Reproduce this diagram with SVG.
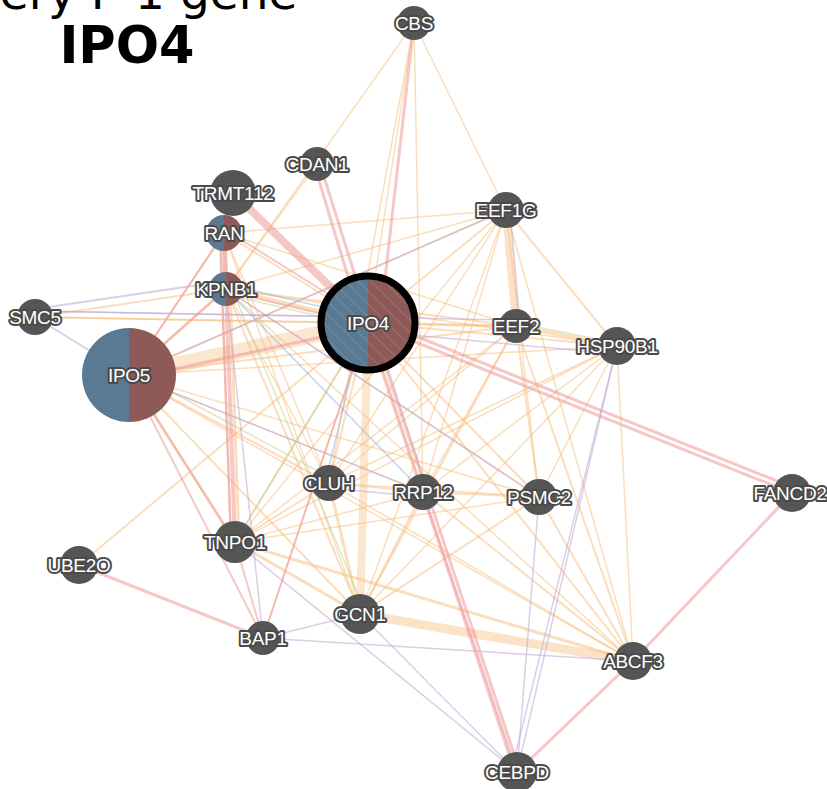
<svg xmlns="http://www.w3.org/2000/svg" width="827" height="789" viewBox="0 0 827 789">
<style>
.e line{fill:none;stroke-linecap:butt}
.p{stroke:#ec9999;stroke-opacity:.55}
.o{stroke:#f8bd7c;stroke-opacity:.5}
.v{stroke:#bda6d4;stroke-opacity:.55}
.g{stroke:#c2d492;stroke-opacity:.55}
.b{stroke:#98b2de;stroke-opacity:.55}
.n{fill:#555}
.bl{fill:#5a7a94}
.rd{fill:#8e5a57}
.lb{font-family:"Liberation Sans",Arial,sans-serif;font-size:19px;fill:#fff;stroke:#4a4a4a;stroke-width:4px;paint-order:stroke;stroke-linejoin:round;text-anchor:middle;letter-spacing:-0.3px}
.t{font-family:"DejaVu Sans",Verdana,sans-serif;fill:#000}
</style>
<defs>
<pattern id="hatch" patternUnits="userSpaceOnUse" width="9" height="9" patternTransform="rotate(-45)">
<line x1="0" y1="0" x2="0" y2="9" stroke="#fff" stroke-opacity=".22" stroke-width="1.2"/>
</pattern>
</defs>
<rect width="827" height="789" fill="#fff"/>
<g id="title">
<text class="t" x="-67" y="9" font-size="47">Query P-1 gene</text>
<text class="t" x="127" y="63" font-size="51" font-weight="bold" text-anchor="middle">IPO4</text>
</g>
<g id="connectors" class="e">
<!-- orange -->
<line class="o" stroke-width="16" x1="129" y1="375" x2="368" y2="323" style="stroke-opacity:.38"/>
<line class="o" stroke-width="8" x1="368" y1="323" x2="360" y2="614" style="stroke-opacity:.38"/>
<line class="o" stroke-width="9" x1="360" y1="614" x2="633" y2="661" style="stroke-opacity:.42"/>
<line class="o" stroke-width="8" x1="506" y1="210" x2="516" y2="326" style="stroke-opacity:.42"/>
<line class="o" stroke-width="1.5" x1="414" y1="23" x2="329" y2="483"/>
<line class="o" stroke-width="1.5" x1="414" y1="23" x2="423" y2="492"/>
<line class="o" stroke-width="1.5" x1="414" y1="23" x2="506" y2="210"/>
<line class="o" stroke-width="1.5" x1="414" y1="23" x2="226" y2="289"/>
<line class="o" stroke-width="1.5" x1="317" y1="164" x2="226" y2="289"/>
<line class="o" stroke-width="2" x1="224" y1="233" x2="368" y2="323"/>
<line class="o" stroke-width="1.5" x1="224" y1="233" x2="506" y2="210"/>
<line class="o" stroke-width="1.5" x1="224" y1="233" x2="516" y2="326"/>
<line class="o" stroke-width="4" x1="224" y1="233" x2="226" y2="289"/>
<line class="o" stroke-width="2" x1="224" y1="233" x2="129" y2="375"/>
<line class="o" stroke-width="1.5" x1="224" y1="233" x2="329" y2="483"/>
<line class="o" stroke-width="1.5" x1="224" y1="233" x2="360" y2="614"/>
<line class="o" stroke-width="2" x1="220" y1="233" x2="231" y2="542"/>
<line class="o" stroke-width="4" x1="226" y1="289" x2="368" y2="323"/>
<line class="o" stroke-width="3" x1="226" y1="289" x2="129" y2="375"/>
<line class="o" stroke-width="1.5" x1="226" y1="289" x2="506" y2="210"/>
<line class="o" stroke-width="2" x1="226" y1="289" x2="516" y2="326"/>
<line class="o" stroke-width="1.5" x1="226" y1="289" x2="617" y2="346"/>
<line class="o" stroke-width="1.5" x1="226" y1="289" x2="539" y2="497"/>
<line class="o" stroke-width="1.5" x1="226" y1="289" x2="329" y2="483"/>
<line class="o" stroke-width="2" x1="226" y1="289" x2="360" y2="614"/>
<line class="o" stroke-width="3" x1="230" y1="289" x2="239" y2="542"/>
<line class="o" stroke-width="1.5" x1="226" y1="289" x2="633" y2="661"/>
<line class="o" stroke-width="2" x1="35" y1="317" x2="226" y2="289"/>
<line class="o" stroke-width="2" x1="35" y1="317" x2="368" y2="323"/>
<line class="o" stroke-width="1.5" x1="35" y1="317" x2="516" y2="326"/>
<line class="o" stroke-width="2" x1="129" y1="375" x2="506" y2="210"/>
<line class="o" stroke-width="2" x1="129" y1="375" x2="516" y2="326"/>
<line class="o" stroke-width="1.5" x1="129" y1="375" x2="617" y2="346"/>
<line class="o" stroke-width="1.5" x1="129" y1="375" x2="539" y2="497"/>
<line class="o" stroke-width="1.5" x1="129" y1="375" x2="423" y2="492"/>
<line class="o" stroke-width="2" x1="129" y1="375" x2="329" y2="483"/>
<line class="o" stroke-width="2" x1="129" y1="375" x2="360" y2="614"/>
<line class="o" stroke-width="3" x1="129" y1="375" x2="235" y2="542"/>
<line class="o" stroke-width="1.5" x1="129" y1="375" x2="633" y2="661"/>
<line class="o" stroke-width="2" x1="368" y1="323" x2="506" y2="210"/>
<line class="o" stroke-width="3" x1="368" y1="323" x2="516" y2="326"/>
<line class="o" stroke-width="2" x1="368" y1="323" x2="617" y2="346"/>
<line class="o" stroke-width="2" x1="368" y1="323" x2="539" y2="497"/>
<line class="o" stroke-width="2" x1="368" y1="323" x2="423" y2="492"/>
<line class="o" stroke-width="2" x1="368" y1="323" x2="329" y2="483"/>
<line class="o" stroke-width="2" x1="368" y1="323" x2="235" y2="542"/>
<line class="o" stroke-width="2" x1="368" y1="323" x2="633" y2="661"/>
<line class="o" stroke-width="2" x1="368" y1="323" x2="79" y2="565"/>
<line class="o" stroke-width="1.5" x1="368" y1="323" x2="414" y2="23"/>
<line class="o" stroke-width="1.5" x1="368" y1="323" x2="263" y2="638"/>
<line class="o" stroke-width="2" x1="506" y1="210" x2="617" y2="346"/>
<line class="o" stroke-width="1.5" x1="506" y1="210" x2="539" y2="497"/>
<line class="o" stroke-width="1.5" x1="506" y1="210" x2="329" y2="483"/>
<line class="o" stroke-width="1.5" x1="506" y1="210" x2="360" y2="614"/>
<line class="o" stroke-width="1.5" x1="506" y1="210" x2="235" y2="542"/>
<line class="o" stroke-width="1.5" x1="506" y1="210" x2="633" y2="661"/>
<line class="o" stroke-width="1.5" x1="506" y1="210" x2="423" y2="492"/>
<line class="o" stroke-width="4" x1="516" y1="326" x2="617" y2="346"/>
<line class="o" stroke-width="2" x1="516" y1="326" x2="539" y2="497"/>
<line class="o" stroke-width="2" x1="516" y1="326" x2="360" y2="614"/>
<line class="o" stroke-width="1.5" x1="516" y1="326" x2="329" y2="483"/>
<line class="o" stroke-width="1.5" x1="516" y1="326" x2="235" y2="542"/>
<line class="o" stroke-width="2" x1="516" y1="326" x2="633" y2="661"/>
<line class="o" stroke-width="1.5" x1="516" y1="326" x2="423" y2="492"/>
<line class="o" stroke-width="1.5" x1="617" y1="346" x2="539" y2="497"/>
<line class="o" stroke-width="1.5" x1="617" y1="346" x2="633" y2="661"/>
<line class="o" stroke-width="1.5" x1="617" y1="346" x2="360" y2="614"/>
<line class="o" stroke-width="1.5" x1="617" y1="346" x2="235" y2="542"/>
<line class="o" stroke-width="1.5" x1="617" y1="346" x2="423" y2="492"/>
<line class="o" stroke-width="1.5" x1="617" y1="346" x2="329" y2="483"/>
<line class="o" stroke-width="2" x1="539" y1="497" x2="633" y2="661"/>
<line class="o" stroke-width="2" x1="539" y1="497" x2="360" y2="614"/>
<line class="o" stroke-width="1.5" x1="539" y1="497" x2="329" y2="483"/>
<line class="o" stroke-width="2" x1="539" y1="497" x2="423" y2="492"/>
<line class="o" stroke-width="1.5" x1="539" y1="497" x2="235" y2="542"/>
<line class="o" stroke-width="2" x1="423" y1="492" x2="360" y2="614"/>
<line class="o" stroke-width="1.5" x1="423" y1="492" x2="329" y2="483"/>
<line class="o" stroke-width="2" x1="423" y1="492" x2="633" y2="661"/>
<line class="o" stroke-width="1.5" x1="423" y1="492" x2="235" y2="542"/>
<line class="o" stroke-width="3" x1="329" y1="483" x2="360" y2="614"/>
<line class="o" stroke-width="2" x1="329" y1="483" x2="235" y2="542"/>
<line class="o" stroke-width="1.5" x1="329" y1="483" x2="633" y2="661"/>
<line class="o" stroke-width="3" x1="360" y1="614" x2="235" y2="542"/>
<line class="o" stroke-width="3" x1="235" y1="542" x2="633" y2="661"/>
<!-- green / blue -->
<line class="g" stroke-width="1.5" x1="368" y1="323" x2="235" y2="542"/>
<line class="g" stroke-width="1.5" x1="226" y1="294" x2="368" y2="328"/>
<line class="g" stroke-width="1.5" x1="516" y1="323" x2="617" y2="343"/>
<line class="g" stroke-width="1.5" x1="129" y1="369" x2="329" y2="477"/>
<line class="g" stroke-width="1.5" x1="232" y1="289" x2="366" y2="614"/>
<line class="b" stroke-width="1.5" x1="364" y1="323" x2="325" y2="483"/>
<line class="b" stroke-width="1.5" x1="226" y1="289" x2="423" y2="492"/>
<line class="b" stroke-width="1.5" x1="226" y1="284" x2="368" y2="318"/>
<!-- purple -->
<line class="v" stroke-width="2" x1="35" y1="309" x2="226" y2="281"/>
<line class="v" stroke-width="2" x1="35" y1="317" x2="129" y2="375"/>
<line class="v" stroke-width="1.5" x1="35" y1="311" x2="368" y2="317"/>
<line class="v" stroke-width="1.5" x1="129" y1="375" x2="506" y2="210"/>
<line class="v" stroke-width="1.5" x1="226" y1="289" x2="539" y2="497"/>
<line class="v" stroke-width="1.5" x1="263" y1="638" x2="360" y2="614"/>
<line class="v" stroke-width="1.5" x1="263" y1="638" x2="633" y2="661"/>
<line class="v" stroke-width="1.5" x1="360" y1="614" x2="517" y2="772"/>
<line class="v" stroke-width="1.5" x1="235" y1="542" x2="517" y2="772"/>
<line class="v" stroke-width="1.5" x1="617" y1="346" x2="517" y2="772"/>
<line class="v" stroke-width="1.5" x1="617" y1="346" x2="511" y2="772"/>
<line class="v" stroke-width="1.5" x1="539" y1="497" x2="517" y2="772"/>
<line class="v" stroke-width="1.5" x1="423" y1="497" x2="329" y2="488"/>
<line class="v" stroke-width="1.5" x1="373" y1="323" x2="428" y2="492"/>
<line class="v" stroke-width="1.5" x1="510" y1="210" x2="520" y2="326"/>
<line class="v" stroke-width="1.5" x1="35" y1="311" x2="516" y2="320"/>
<line class="v" stroke-width="1.5" x1="226" y1="289" x2="263" y2="638"/>
<line class="v" stroke-width="1.5" x1="368" y1="331" x2="617" y2="354"/>
<line class="v" stroke-width="1.5" x1="129" y1="375" x2="423" y2="492"/>
<!-- pink -->
<line class="p" stroke-width="8" x1="233" y1="193" x2="368" y2="323"/>
<line class="p" stroke-width="3" x1="314" y1="164" x2="362" y2="323"/>
<line class="p" stroke-width="3" x1="320" y1="164" x2="370" y2="323"/>
<line class="p" stroke-width="3" x1="414" y1="23" x2="380" y2="323"/>
<line class="p" stroke-width="5" x1="224" y1="233" x2="226" y2="289"/>
<line class="p" stroke-width="4" x1="226" y1="289" x2="235" y2="542"/>
<line class="p" stroke-width="2.5" x1="220" y1="233" x2="231" y2="542"/>
<line class="p" stroke-width="2" x1="129" y1="375" x2="235" y2="542"/>
<line class="p" stroke-width="2" x1="129" y1="375" x2="263" y2="638"/>
<line class="p" stroke-width="2" x1="129" y1="375" x2="224" y2="233"/>
<line class="p" stroke-width="2" x1="129" y1="375" x2="226" y2="289"/>
<line class="p" stroke-width="3" x1="129" y1="379" x2="368" y2="327"/>
<line class="p" stroke-width="3" x1="368" y1="323" x2="792" y2="493"/>
<line class="p" stroke-width="3" x1="368" y1="317" x2="792" y2="487"/>
<line class="p" stroke-width="3" x1="366" y1="323" x2="515" y2="772"/>
<line class="p" stroke-width="3" x1="371" y1="323" x2="520" y2="772"/>
<line class="p" stroke-width="2" x1="368" y1="323" x2="263" y2="638"/>
<line class="p" stroke-width="3" x1="79" y1="565" x2="263" y2="638"/>
<line class="p" stroke-width="2" x1="235" y1="542" x2="263" y2="638"/>
<line class="p" stroke-width="3" x1="792" y1="493" x2="633" y2="661"/>
<line class="p" stroke-width="3" x1="633" y1="661" x2="517" y2="772"/>
<line class="p" stroke-width="2" x1="423" y1="492" x2="517" y2="772"/>
<line class="p" stroke-width="2" x1="224" y1="229" x2="368" y2="319"/>
<line class="p" stroke-width="2" x1="226" y1="291" x2="368" y2="325"/>
</g>
<g id="n-CBS"><circle class="n" cx="414" cy="23" r="17"/><text class="lb" x="414" y="30">CBS</text></g>
<g id="n-CDAN1"><circle class="n" cx="317" cy="164" r="17"/><text class="lb" x="317" y="171">CDAN1</text></g>
<g id="n-TRMT112"><circle class="n" cx="233" cy="193" r="23"/><text class="lb" x="233" y="200">TRMT112</text></g>
<g id="n-RAN"><path class="bl" d="M224 215A18 18 0 0 0 224 251Z"/><path class="rd" d="M224 215A18 18 0 0 1 224 251Z"/><text class="lb" x="224" y="240">RAN</text></g>
<g id="n-KPNB1"><path class="bl" d="M226 272A17 17 0 0 0 226 306Z"/><path class="rd" d="M226 272A17 17 0 0 1 226 306Z"/><text class="lb" x="226" y="296">KPNB1</text></g>
<g id="n-SMC5"><circle class="n" cx="35" cy="317" r="18"/><text class="lb" x="35" y="324">SMC5</text></g>
<g id="n-IPO5"><path class="bl" d="M129 328A47 47 0 0 0 129 422Z"/><path class="rd" d="M129 328A47 47 0 0 1 129 422Z"/><text class="lb" x="129" y="382">IPO5</text></g>
<g id="n-IPO4"><path class="bl" d="M368 279A44 44 0 0 0 368 367Z"/><path class="rd" d="M368 279A44 44 0 0 1 368 367Z"/><circle cx="368" cy="323" r="44" fill="url(#hatch)"/><circle cx="368" cy="323" r="47" fill="none" stroke="#000" stroke-width="7"/><text class="lb" x="368" y="330">IPO4</text></g>
<g id="n-EEF1G"><circle class="n" cx="506" cy="210" r="18"/><text class="lb" x="506" y="217">EEF1G</text></g>
<g id="n-EEF2"><circle class="n" cx="516" cy="326" r="17"/><text class="lb" x="516" y="333">EEF2</text></g>
<g id="n-HSP90B1"><circle class="n" cx="617" cy="346" r="19"/><text class="lb" x="617" y="353">HSP90B1</text></g>
<g id="n-FANCD2"><circle class="n" cx="792" cy="493" r="19"/><text class="lb" x="790" y="500">FANCD2</text></g>
<g id="n-CLUH"><circle class="n" cx="329" cy="483" r="18"/><text class="lb" x="329" y="490">CLUH</text></g>
<g id="n-RRP12"><circle class="n" cx="423" cy="492" r="18"/><text class="lb" x="423" y="499">RRP12</text></g>
<g id="n-PSMC2"><circle class="n" cx="539" cy="497" r="18"/><text class="lb" x="539" y="504">PSMC2</text></g>
<g id="n-TNPO1"><circle class="n" cx="235" cy="542" r="21"/><text class="lb" x="235" y="549">TNPO1</text></g>
<g id="n-UBE2O"><circle class="n" cx="79" cy="565" r="19"/><text class="lb" x="79" y="572">UBE2O</text></g>
<g id="n-BAP1"><circle class="n" cx="263" cy="638" r="17"/><text class="lb" x="263" y="645">BAP1</text></g>
<g id="n-GCN1"><circle class="n" cx="360" cy="614" r="20"/><text class="lb" x="360" y="621">GCN1</text></g>
<g id="n-ABCF3"><circle class="n" cx="633" cy="661" r="19"/><text class="lb" x="633" y="668">ABCF3</text></g>
<g id="n-CEBPD"><circle class="n" cx="517" cy="772" r="20"/><text class="lb" x="517" y="779">CEBPD</text></g>
</svg>
